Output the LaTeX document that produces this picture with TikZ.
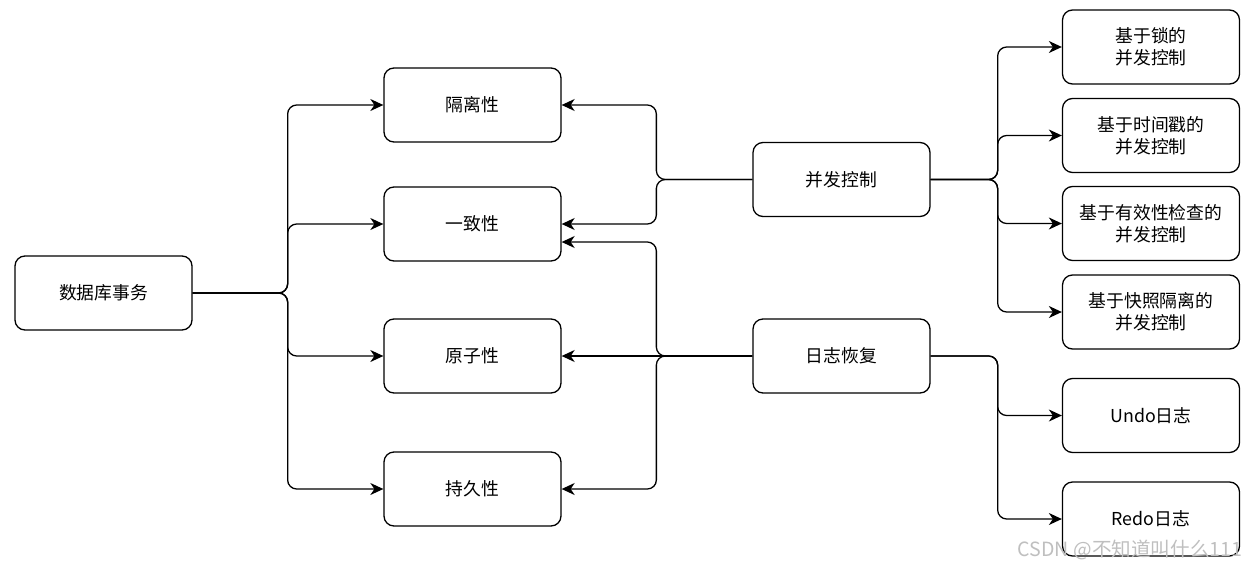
\documentclass[tikz,border=0pt]{standalone}
\usepackage{fontspec}
\setmainfont{Noto Sans CJK SC}
\usetikzlibrary{arrows.meta}
\tikzset{
  box/.style={draw, rounded corners=10pt, line width=1.3pt, minimum width=177pt,
    minimum height=74pt, align=center, font=\fontsize{17.8}{22}\selectfont},
  link/.style={line width=1.3pt, rounded corners=9pt,
    -{Stealth[length=13pt,width=12pt,inset=4pt]}},
}
\begin{document}
\begin{tikzpicture}[x=1pt,y=-1pt]
      \useasboundingbox (0,0) rectangle (1260,570);
      \draw
        (103.5,293) node[box] (db){数据库事务}
        (472.5,105) node[box] (iso){隔离性}
        (472.5,224) node[box] (cons){一致性}
        (472.5,356) node[box] (atom){原子性}
        (472.5,489) node[box] (dur){持久性}
        (841.5,179.5) node[box] (cc){并发控制}
        (841.5,356) node[box] (log){日志恢复}
        (1151,47) node[box] (lock){基于锁的\\并发控制}
        (1151,135.5) node[box] (ts){基于时间戳的\\并发控制}
        (1151,223.5) node[box] (valid){基于有效性检查的\\并发控制}
        (1151,312) node[box] (snap){基于快照隔离的\\并发控制}
        (1151,415.5) node[box] (undo){Undo日志}
        (1151,519) node[box] (redo){Redo日志};
      \node[text=gray!50, font=\fontsize{19.6}{22}\selectfont] (wm) at (1130,550) {CSDN @不知道叫什么111};
      \begin{scope}[link]
        \draw (db.east) -- ++(95,0) |- (iso.west);
        \draw (db.east) -- ++(95,0) |- (cons.west);
        \draw (db.east) -- ++(95,0) |- (atom.west);
        \draw (db.east) -- ++(95,0) |- (dur.west);
        \draw (cc.west) -- ++(-96,0) |- (iso.east);
        \draw (cc.west) -- ++(-96,0) |- (cons.east);
        \draw (log.west) -- ++(-96,0) |- ([yshift=-18pt]cons.east);
        \draw (log.west) -- (atom.east);
        \draw (log.west) -- ++(-96,0) |- (dur.east);
        \draw (cc.east) -- ++(67,0) |- (lock.west);
        \draw (cc.east) -- ++(67,0) |- (ts.west);
        \draw (cc.east) -- ++(67,0) |- (valid.west);
        \draw (cc.east) -- ++(67,0) |- (snap.west);
        \draw (log.east) -- ++(67,0) |- (undo.west);
        \draw (log.east) -- ++(67,0) |- (redo.west);
      \end{scope}
    \end{tikzpicture}
\end{document}
